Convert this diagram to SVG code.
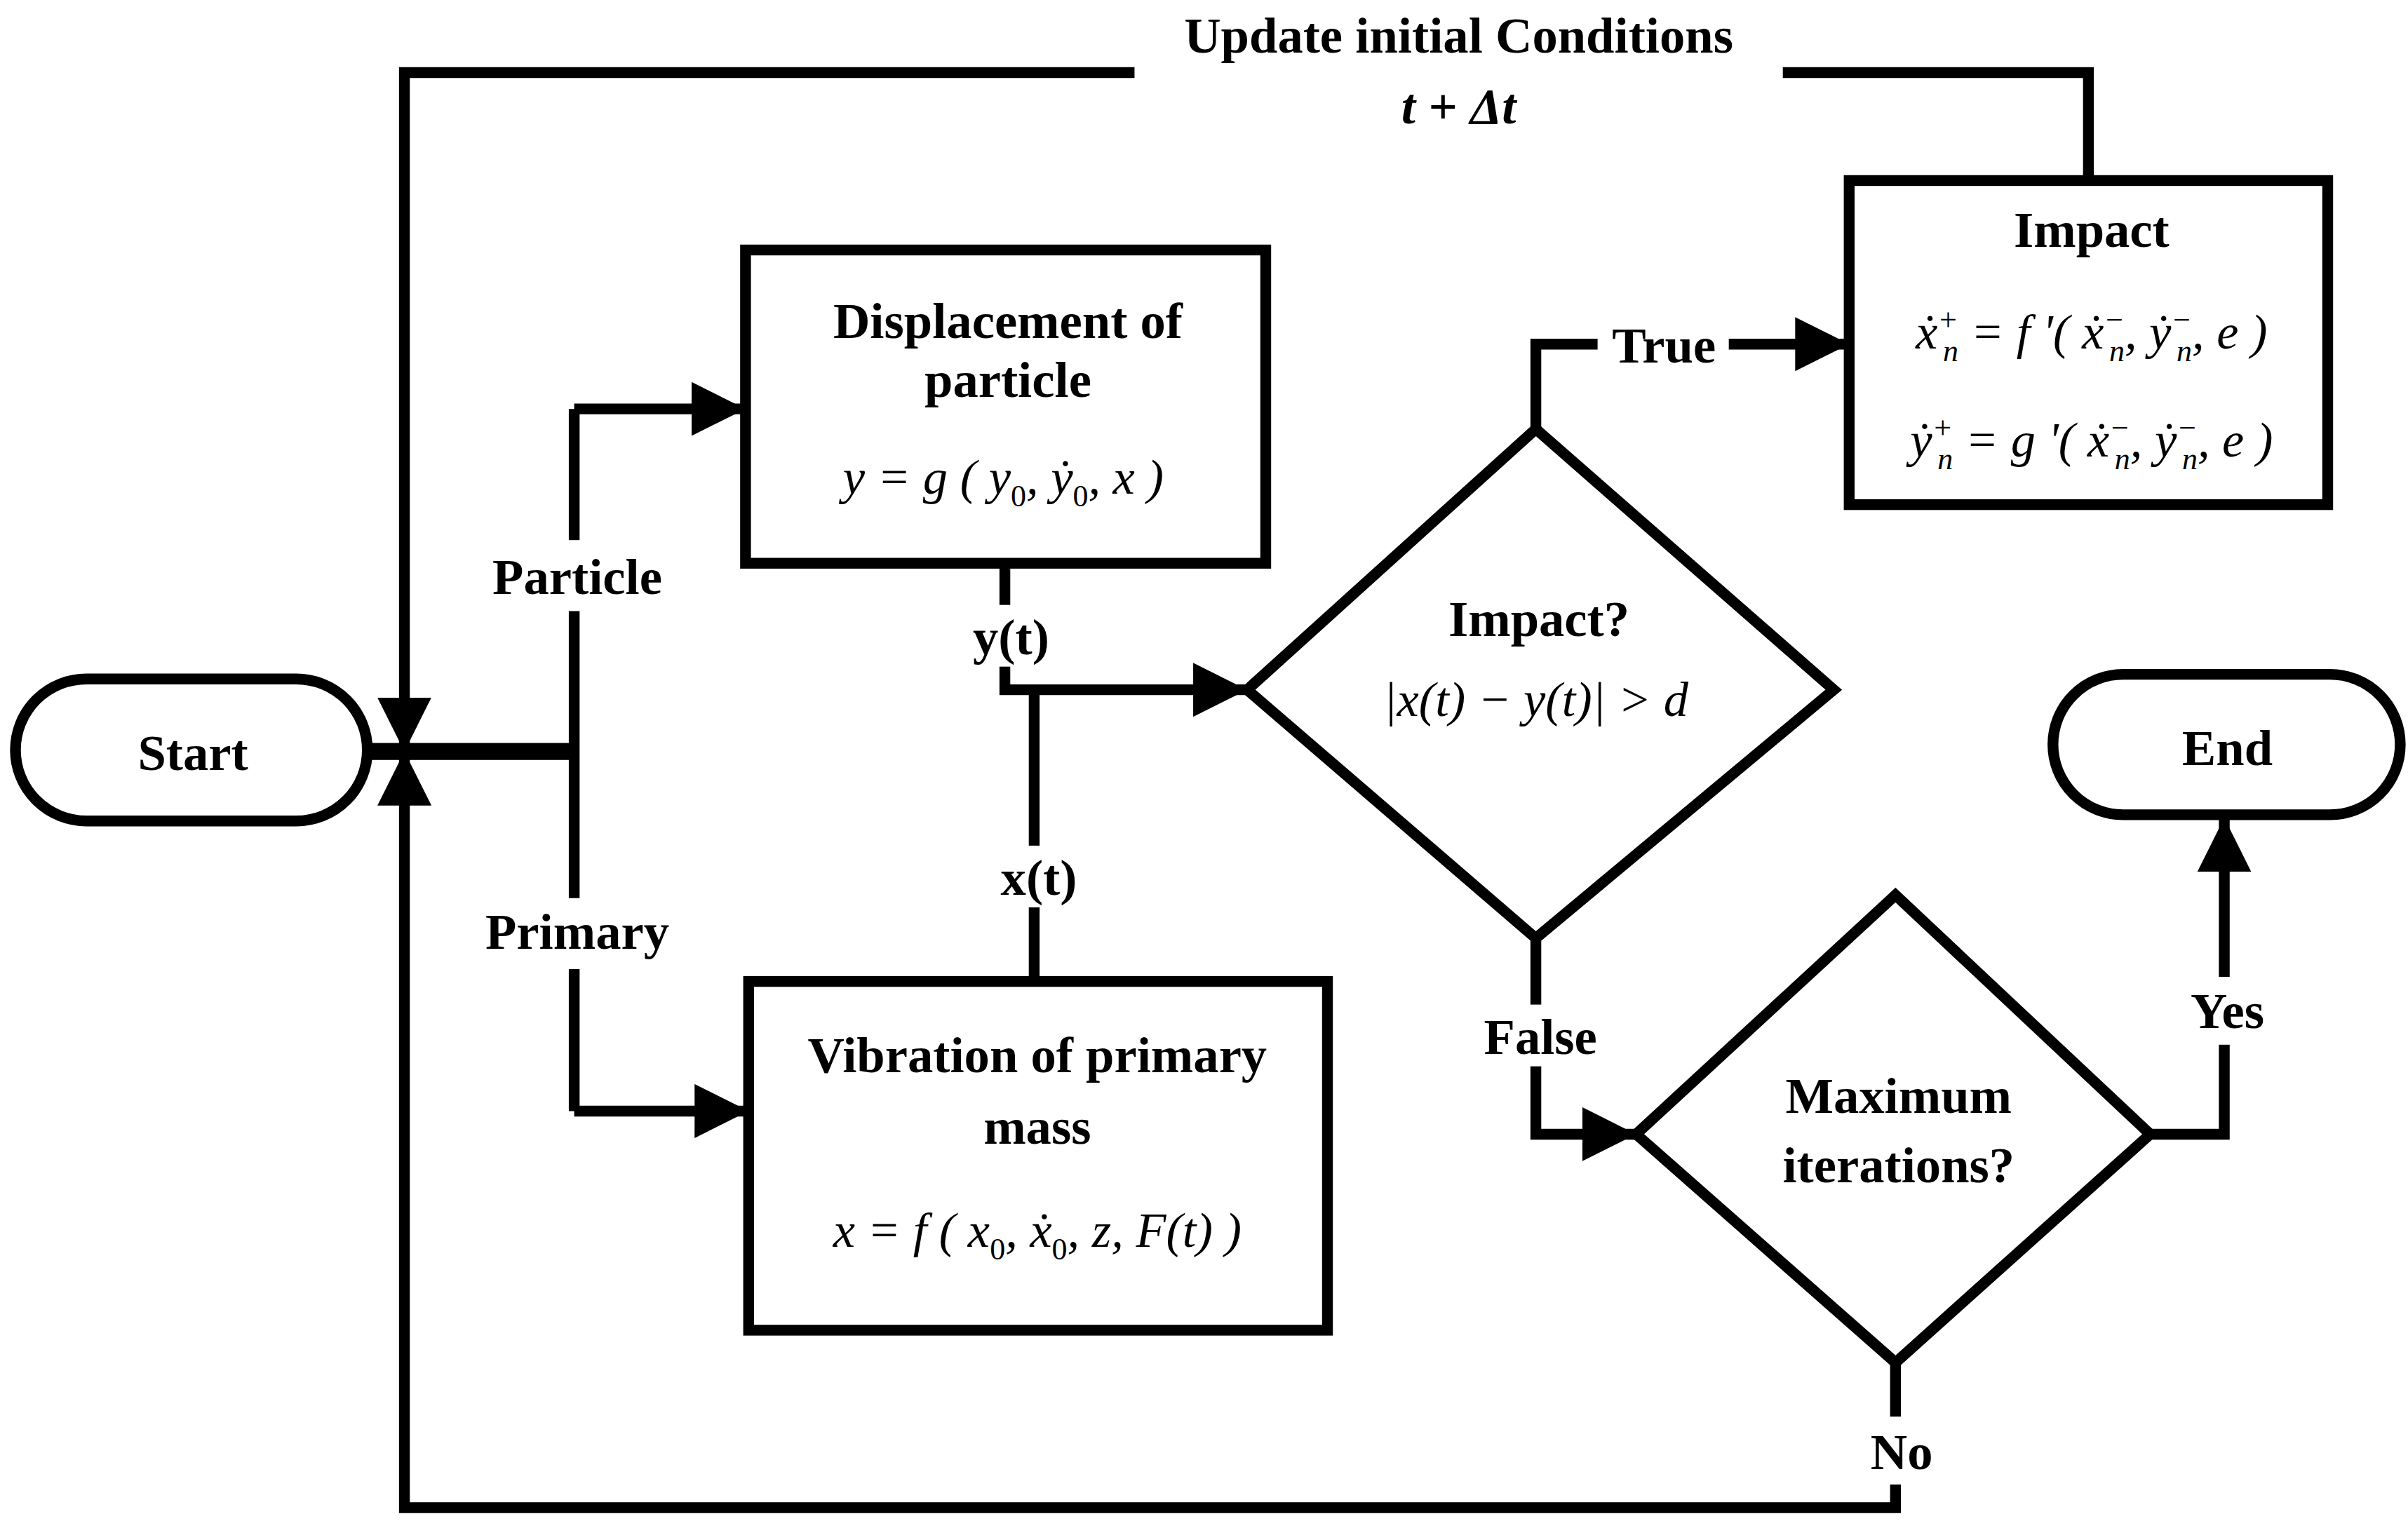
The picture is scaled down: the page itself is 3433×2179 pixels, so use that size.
<svg xmlns="http://www.w3.org/2000/svg" width="3433" height="2179" viewBox="0 0 3433 2179">
<style>
.s{fill:none;stroke:#000;stroke-width:7}
.b{fill:#fff;stroke:#000;stroke-width:7}
.t{font-family:"Liberation Serif",serif;font-weight:bold;font-size:33px;text-anchor:middle}
.m{font-family:"Liberation Serif",serif;font-style:italic;font-size:32px;text-anchor:middle}
.w{fill:#fff;stroke:none}
</style>
<defs>
<marker id="a" viewBox="0 0 10 10" refX="10" refY="5" markerWidth="5" markerHeight="5" markerUnits="strokeWidth" orient="auto"><path d="M0,0L10,5L0,10z" fill="#000"/></marker>
</defs>
<rect width="3433" height="2179" fill="#fff"/>
<g transform="scale(2.2006)">
<g id="connectors">
<path class="s" d="M238,487H372" style="stroke-width:11"/>
<path class="s" d="M372,265V720"/>
<path class="s" d="M372,265H483" marker-end="url(#a)"/>
<path class="s" d="M372,720H485" marker-end="url(#a)"/>
<path class="s" d="M651,365V447H808" marker-end="url(#a)"/>
<path class="s" d="M670,447V636"/>
<path class="s" d="M995,278V223H1198" marker-end="url(#a)"/>
<path class="s" d="M1353,117V47H262V487" marker-end="url(#a)"/>
<path class="s" d="M995,608V735H1060" marker-end="url(#a)"/>
<path class="s" d="M1393,735H1441V530" marker-end="url(#a)"/>
<path class="s" d="M1228,883V977H262V487" marker-end="url(#a)"/>
<rect class="w" x="300" y="350" width="145" height="46"/>
<rect class="w" x="300" y="582" width="145" height="46"/>
<rect class="w" x="625" y="392" width="60" height="40"/>
<rect class="w" x="640" y="548" width="65" height="40"/>
<rect class="w" x="1035" y="203" width="85" height="40"/>
<rect class="w" x="735" y="0" width="420" height="95"/>
<rect class="w" x="950" y="651" width="95" height="40"/>
<rect class="w" x="1410" y="633" width="65" height="44"/>
<rect class="w" x="1200" y="918" width="60" height="44"/>
<text class="t" x="374" y="385">Particle</text>
<text class="t" x="374" y="615">Primary</text>
<text class="t" x="655" y="424">y(t)</text>
<text class="t" x="673" y="580">x(t)</text>
<text class="t" x="1078" y="235">True</text>
<text class="t" x="945" y="34">Update initial Conditions</text>
<text class="t" x="945" y="80" font-style="italic">t + Δt</text>
<text class="t" x="998" y="683">False</text>
<text class="t" x="1443" y="666">Yes</text>
<text class="t" x="1232" y="952">No</text>
</g>
<g id="start"><rect class="b" x="10" y="440" width="228" height="92" rx="46"/><text class="t" x="125" y="499">Start</text></g>
<g id="end"><rect class="b" x="1330" y="437" width="225" height="91" rx="45.5"/><text class="t" x="1443" y="496">End</text></g>
<g id="disp"><rect class="b" x="483" y="162" width="337" height="203"/>
<text class="t" x="653" y="219">Displacement of</text><text class="t" x="653" y="257">particle</text>
<text class="m" x="650" y="320">y = g ( y<tspan font-size="20" font-style="normal" dy="8">0</tspan><tspan dy="-8">, ẏ</tspan><tspan font-size="20" font-style="normal" dy="8">0</tspan><tspan dy="-8">, x )</tspan></text></g>
<g id="vib"><rect class="b" x="485" y="636" width="375" height="226"/>
<text class="t" x="672" y="695">Vibration of primary</text><text class="t" x="672" y="741">mass</text>
<text class="m" x="672" y="808">x = f ( x<tspan font-size="20" font-style="normal" dy="8">0</tspan><tspan dy="-8">, ẋ</tspan><tspan font-size="20" font-style="normal" dy="8">0</tspan><tspan dy="-8">, z, F(t) )</tspan></text></g>
<g id="impq"><path class="b" d="M808,447L995,278L1188,447L995,608Z"/>
<text class="t" x="997" y="412">Impact?</text>
<text class="m" x="995" y="464">|x(t) − y(t)| &gt; d</text></g>
<g id="impact"><rect class="b" x="1198" y="117" width="310" height="210"/>
<text class="t" x="1355" y="160">Impact</text>
<text class="m" x="1355" y="226">ẋ<tspan font-size="20" dy="-12">+</tspan><tspan font-size="20" dx="-10" dy="20">n</tspan><tspan dy="-8"> = f '( ẋ</tspan><tspan font-size="20" dy="-12">−</tspan><tspan font-size="20" dx="-10" dy="20">n</tspan><tspan dy="-8">, ẏ</tspan><tspan font-size="20" dy="-12">−</tspan><tspan font-size="20" dx="-10" dy="20">n</tspan><tspan dy="-8">, e )</tspan></text>
<text class="m" x="1355" y="296">ẏ<tspan font-size="20" dy="-12">+</tspan><tspan font-size="20" dx="-10" dy="20">n</tspan><tspan dy="-8"> = g '( ẋ</tspan><tspan font-size="20" dy="-12">−</tspan><tspan font-size="20" dx="-10" dy="20">n</tspan><tspan dy="-8">, ẏ</tspan><tspan font-size="20" dy="-12">−</tspan><tspan font-size="20" dx="-10" dy="20">n</tspan><tspan dy="-8">, e )</tspan></text></g>
<g id="maxq"><path class="b" d="M1060,735L1228,580L1393,735L1228,883Z"/>
<text class="t" x="1230" y="721">Maximum</text><text class="t" x="1230" y="766">iterations?</text></g>
</g>
</svg>
